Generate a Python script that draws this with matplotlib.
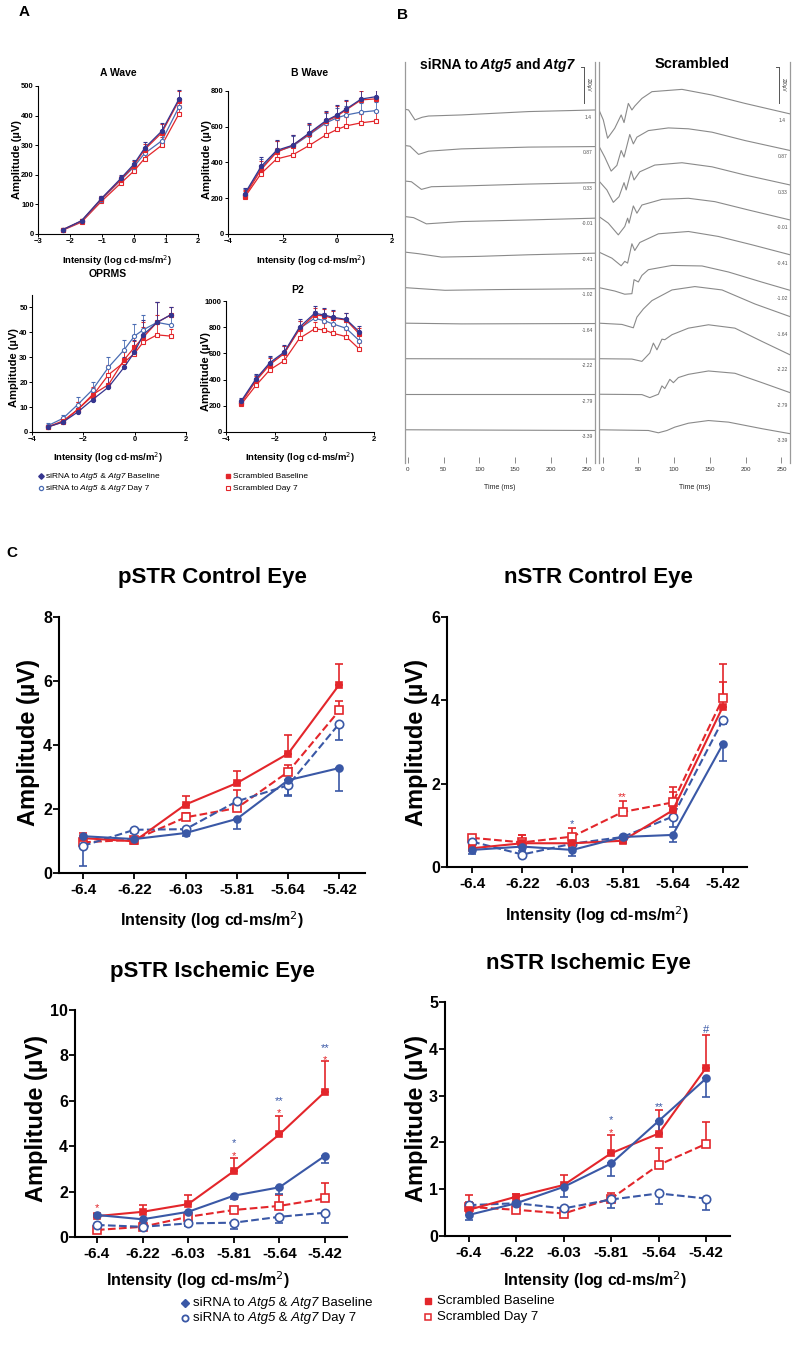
import numpy as np
import matplotlib
matplotlib.use("Agg")
import matplotlib.pyplot as plt

plt.rcParams['font.family'] = ['Liberation Sans', 'DejaVu Sans']

W, H = 800, 1349
NAVY = '#35358f'
BLUE_A = '#4a6cb3'
BLUE = '#3a58a6'
RED = '#e3262b'
GRAY = '#8a8a8a'

# ---------------- panel A : ERG intensity series ----------------
intensity = [-3.39, -2.79, -2.22, -1.64, -1.02, -0.41, -0.01, 0.33, 0.87, 1.4]

awave_si_bl = [15, 45, 120, 188, 235, 290, 348, 455]
awave_si_d7 = [14, 43, 116, 182, 226, 272, 315, 428]
awave_sc_bl = [15, 44, 118, 184, 230, 285, 342, 450]
awave_sc_d7 = [13, 40, 110, 172, 212, 255, 300, 405]
awave_err = [4, 6, 10, 12, 15, 20, 28, 32]

bwave_si_bl = [225, 378, 468, 496, 566, 635, 666, 700, 755, 768]
bwave_si_d7 = [218, 368, 462, 490, 556, 622, 650, 666, 682, 690]
bwave_sc_bl = [212, 360, 458, 495, 560, 630, 660, 695, 750, 756]
bwave_sc_d7 = [205, 338, 420, 442, 496, 555, 585, 605, 622, 632]
bwave_err = [35, 50, 60, 60, 55, 55, 55, 50, 50, 50]

oprms_si_bl = [2, 4, 8, 13, 18, 26, 32, 39, 44, 47]
oprms_si_d7 = [2.5, 5.5, 11, 17, 26, 33, 38.5, 41, 44, 43]
oprms_sc_bl = [2, 4.5, 9, 15, 19, 29, 34, 38, 44, 47]
oprms_sc_d7 = [2, 4, 9, 14.5, 23, 28, 31.5, 36, 39, 38.5]
oprms_err = [1, 1.5, 3, 3, 4, 4, 5, 6, 8, 3]

p2_si_bl = [235, 405, 530, 610, 800, 906, 893, 876, 860, 766]
p2_si_d7 = [225, 395, 520, 600, 790, 868, 850, 825, 792, 698]
p2_sc_bl = [220, 390, 515, 600, 785, 893, 886, 868, 855, 749]
p2_sc_d7 = [210, 355, 475, 545, 715, 787, 779, 754, 728, 634]
p2_err = [25, 40, 50, 55, 60, 55, 55, 55, 50, 45]

# ---------------- panel B : waveforms (time ms, amplitude uV) ----------------
trace_labels = ['1.4', '0.87', '0.33', '-0.01', '-0.41', '-1.02', '-1.64', '-2.22', '-2.79', '-3.39']

si_t = [[-4, 1, 10, 20, 29, 75, 169, 262],
        [-4, 3, 15, 29, 75, 169, 262],
        [-4, 5, 19, 33, 75, 169, 262],
        [-4, 8, 26, 75, 169, 262],
        [-4, 15, 47, 99, 169, 262],
        [-4, 52, 122, 262],
        [-4, 75, 262],
        [-4, 262],
        [-4, 262],
        [-4, 262]]
si_v = [[4, 0, -56, -41, -34, -28, -9, 0],
        [0, -4, -50, -32, -19, -9, -6],
        [0, -4, -47, -32, -28, -17, -9],
        [0, -6, -41, -28, -19, -9],
        [0, -9, -28, -24, -15, -6],
        [0, -15, -11, -6],
        [0, -4, -2],
        [0, -2],
        [0, 0],
        [0, -4]]

sc_t = [[-5, 1, 7, 17, 26, 30, 36, 41, 45, 55, 69, 111, 153, 199, 262],
        [-5, 3, 12, 20, 26, 30, 38, 43, 48, 64, 92, 120, 153, 199, 262],
        [-5, 6, 15, 23, 30, 33, 40, 44, 52, 73, 111, 153, 199, 262],
        [-5, 8, 22, 31, 35, 37, 43, 48, 55, 83, 120, 157, 204, 262],
        [-5, 13, 26, 31, 35, 41, 45, 52, 78, 120, 162, 209, 262],
        [-5, 17, 31, 41, 44, 50, 55, 64, 97, 139, 176, 222, 262],
        [-5, 27, 43, 48, 57, 69, 97, 129, 167, 213, 262],
        [-5, 41, 55, 66, 71, 76, 83, 87, 97, 120, 148, 185, 223, 262],
        [-5, 55, 66, 78, 83, 87, 94, 99, 106, 120, 148, 185, 223, 262],
        [-5, 64, 78, 90, 101, 120, 148, 176, 223, 262]]
sc_v = [[0, -56, -159, -103, -28, -71, 37, 0, 22, 65, 103, 116, 84, 37, -22],
        [-4, -65, -144, -112, -28, -65, 62, 9, 47, 84, 99, 94, 75, 28, -28],
        [0, -50, -120, -88, -9, -50, 56, 6, 52, 90, 103, 80, 34, -22],
        [0, -37, -103, -56, -9, -37, 60, 19, 65, 97, 103, 84, 37, -19],
        [0, -34, -77, -52, -62, 47, 9, 54, 103, 116, 88, 41, -15],
        [0, -19, -37, -34, 45, 32, 69, 101, 125, 122, 88, 32, -15],
        [0, -7, -26, 34, 80, 127, 187, 206, 187, 108, 37],
        [0, -2, -15, 32, 88, 50, 110, 107, 135, 172, 191, 172, 97, 22],
        [0, -2, -19, 0, 47, 32, 84, 65, 94, 112, 131, 118, 65, 9],
        [0, -4, -17, -4, 15, 37, 52, 43, 6, -22]]

# ---------------- panel C : STR amplitudes ----------------
stim = ['-6.4', '-6.22', '-6.03', '-5.81', '-5.64', '-5.42']

pc_si_bl = [1.15, 1.06, 1.25, 1.69, 2.90, 3.28]
pc_si_bl_err = [0.1, 0.1, 0.1, 0.3, 0.5, 0.73]
pc_si_d7 = [0.85, 1.35, 1.37, 2.24, 2.74, 4.67]
pc_si_d7_err = [0.62, 0.1, 0.1, 0.2, 0.3, 0.5]
pc_sc_bl = [1.09, 0.99, 2.14, 2.81, 3.73, 5.89]
pc_sc_bl_err = [0.15, 0.1, 0.26, 0.39, 0.57, 0.65]
pc_sc_d7 = [0.96, 1.04, 1.74, 2.03, 3.16, 5.08]
pc_sc_d7_err = [0.15, 0.1, 0.15, 0.55, 0.2, 0.3]

nc_si_bl = [0.41, 0.49, 0.41, 0.72, 0.77, 2.95]
nc_si_bl_err = [0.1, 0.1, 0.15, 0.15, 0.17, 0.4]
nc_si_d7 = [0.61, 0.30, 0.56, 0.72, 1.21, 3.53]
nc_si_d7_err = [0.1, 0.05, 0.1, 0.1, 0.25, 0.1]
nc_sc_bl = [0.45, 0.57, 0.57, 0.63, 1.36, 3.85]
nc_sc_bl_err = [0.1, 0.2, 0.1, 0.05, 0.45, 0.6]
nc_sc_d7 = [0.70, 0.59, 0.73, 1.32, 1.55, 4.05]
nc_sc_d7_err = [0.08, 0.18, 0.2, 0.27, 0.36, 0.82]

pi_si_bl = [0.97, 0.78, 1.11, 1.82, 2.19, 3.58]
pi_si_bl_err = [0.1, 0.1, 0.1, 0.15, 0.3, 0.32]
pi_si_d7 = [0.53, 0.45, 0.60, 0.63, 0.89, 1.07]
pi_si_d7_err = [0.1, 0.1, 0.1, 0.28, 0.29, 0.47]
pi_sc_bl = [0.92, 1.11, 1.45, 2.90, 4.52, 6.40]
pi_sc_bl_err = [0.1, 0.3, 0.4, 0.57, 0.81, 1.37]
pi_sc_d7 = [0.31, 0.45, 0.89, 1.19, 1.37, 1.70]
pi_sc_d7_err = [0.1, 0.1, 0.1, 0.1, 0.48, 0.67]

ni_si_bl = [0.45, 0.70, 1.05, 1.55, 2.46, 3.37]
ni_si_bl_err = [0.1, 0.05, 0.21, 0.27, 0.26, 0.39]
ni_si_d7 = [0.66, 0.70, 0.59, 0.78, 0.91, 0.80]
ni_si_d7_err = [0.1, 0.05, 0.05, 0.19, 0.22, 0.24]
ni_sc_bl = [0.56, 0.84, 1.09, 1.77, 2.19, 3.60]
ni_sc_bl_err = [0.31, 0.05, 0.21, 0.39, 0.5, 0.69]
ni_sc_d7 = [0.62, 0.56, 0.48, 0.80, 1.52, 1.97]
ni_sc_d7_err = [0.1, 0.05, 0.05, 0.12, 0.35, 0.47]

# significance marks: (index, value, text, colour)
nc_marks = [(2, 1.13, '*', BLUE), (3, 1.77, '**', RED)]
pi_marks = [(0, 1.45, '*', RED), (3, 4.3, '*', BLUE), (3, 3.72, '*', RED),
            (4, 6.15, '**', BLUE), (4, 5.6, '*', RED), (5, 8.5, '**', BLUE), (5, 7.95, '*', RED)]
ni_marks = [(3, 2.55, '*', BLUE), (3, 2.28, '*', RED), (4, 2.83, '**', BLUE), (5, 4.47, '#', BLUE)]

# ---------------------------------------------------------------
fig = plt.figure(figsize=(W / 100, H / 100), dpi=100)
ov = fig.add_axes([0, 0, 1, 1], zorder=10)
ov.set_xlim(0, W)
ov.set_ylim(H, 0)
ov.axis('off')


def px_axes(l, t, r, b):
    return fig.add_axes([l / W, 1 - b / H, (r - l) / W, (b - t) / H])


def rich(x, y, parts, size, weight='normal', center=False, va='center'):
    # chain text pieces so that italic gene names sit inside normal text
    first = ov.text(x, y, parts[0][0], fontsize=size, fontweight=weight,
                    fontstyle=parts[0][1], va=va, ha='left')
    arts = [first]
    for s, st in parts[1:]:
        arts.append(ov.annotate(s, xy=(1, 0), xycoords=arts[-1], va='bottom', ha='left',
                                fontsize=size, fontweight=weight, fontstyle=st))
    if center:
        r = fig.canvas.get_renderer()
        x0 = arts[0].get_window_extent(r).x0
        x1 = arts[-1].get_window_extent(r).x1
        first.set_x(x - (x1 - x0) / 2)
    return arts


# ---------------- panel A ----------------
A_STY = [dict(color=RED, marker='s', mfc='white'),
         dict(color=BLUE_A, marker='o', mfc='white'),
         dict(color=RED, marker='s', mfc=RED),
         dict(color=NAVY, marker='o', mfc=NAVY)]


def a_panel(rect, x, series, err, xlim, xticks, ylim, yticks):
    ax = px_axes(*rect)
    for vals, sty in zip(series, A_STY):
        ax.errorbar(x, vals, yerr=[np.zeros(len(vals)), err], color=sty['color'],
                    marker=sty['marker'], mfc=sty['mfc'], mec=sty['color'], ms=3,
                    mew=0.8, lw=0.9, elinewidth=0.6, capsize=1.3, capthick=0.6)
    ax.set_xlim(*xlim)
    ax.set_ylim(*ylim)
    ax.set_xticks(xticks)
    ax.set_yticks(yticks)
    ax.spines[['top', 'right']].set_visible(False)
    ax.spines[['left', 'bottom']].set_linewidth(0.8)
    ax.tick_params(length=2, width=0.7, labelsize=5.5, pad=1)
    for lab in ax.get_xticklabels() + ax.get_yticklabels():
        lab.set_fontweight('bold')
    return ax


a_panel((38, 86, 198, 234), intensity[2:],
        [awave_sc_d7, awave_si_d7, awave_sc_bl, awave_si_bl], awave_err,
        (-3, 2), [-3, -2, -1, 0, 1, 2], (0, 500), [0, 100, 200, 300, 400, 500])
a_panel((228, 91, 392, 234), intensity,
        [bwave_sc_d7, bwave_si_d7, bwave_sc_bl, bwave_si_bl], bwave_err,
        (-4, 2), [-4, -2, 0, 2], (0, 800), [0, 200, 400, 600, 800])
a_panel((32, 295, 186, 432), intensity,
        [oprms_sc_d7, oprms_si_d7, oprms_sc_bl, oprms_si_bl], oprms_err,
        (-4, 2), [-4, -2, 0, 2], (0, 55), [0, 10, 20, 30, 40, 50])
a_panel((226, 301, 374, 432), intensity,
        [p2_sc_d7, p2_si_d7, p2_sc_bl, p2_si_bl], p2_err,
        (-4, 2), [-4, -2, 0, 2], (0, 1000), [0, 200, 400, 600, 800, 1000])

for x, y, s in [(118, 73, 'A Wave'), (310, 73, 'B Wave'), (108, 274, 'OPRMS'), (298, 290, 'P2')]:
    ov.text(x, y, s, fontsize=7.5, fontweight='bold', ha='center', va='center')
for x, y in [(17, 160), (207, 160), (14, 368), (206, 372)]:
    ov.text(x, y, 'Amplitude (µV)', fontsize=8, fontweight='bold', rotation=90,
            ha='center', va='center')
for x, y in [(117, 261), (311, 261), (108, 458), (300, 458)]:
    ov.text(x, y, 'Intensity (log cd-ms/m$^2$)', fontsize=6.8, fontweight='bold',
            ha='center', va='center')

# panel A legend
ov.plot([41], [476], marker='D', ms=2.8, color=NAVY, ls='none')
ov.plot([41], [488], marker='o', ms=3, mfc='white', mec=BLUE_A, mew=0.9, ls='none')
ov.plot([228], [476], marker='s', ms=2.8, color=RED, ls='none')
ov.plot([228], [488], marker='s', ms=3, mfc='white', mec=RED, mew=0.8, ls='none')
rich(46, 476, [('siRNA to', 'normal'), (' Atg5', 'italic'), (' &', 'normal'),
               (' Atg7', 'italic'), (' Baseline', 'normal')], 6)
rich(46, 488, [('siRNA to', 'normal'), (' Atg5', 'italic'), (' &', 'normal'),
               (' Atg7', 'italic'), (' Day 7', 'normal')], 6)
rich(233, 476, [('Scrambled Baseline', 'normal')], 6)
rich(233, 488, [('Scrambled Day 7', 'normal')], 6)

# ---------------- panel B ----------------
STEP = 200
UV_PER_PX = 5.63
b_ylim = (-1987, 270)
for (l, r, xl, tt, vv, lab_t, lab_dy) in [(405, 595, (-4, 262), si_t, si_v, 252, -40),
                                         (599, 790, (-5, 262), sc_t, sc_v, 251, -62)]:
    ax = px_axes(l, 62, r, 463)
    for i, (t, v) in enumerate(zip(tt, vv)):
        ax.plot(t, np.array(v) - STEP * i, color=GRAY, lw=0.8)
        ax.text(lab_t, -STEP * i + lab_dy, trace_labels[i], fontsize=3.6, color='#555555',
                ha='center', va='center')
    # 200 uV scale bar
    ax.plot([246, 246], [40, 240], color='#555555', lw=0.7)
    ax.plot([242, 246], [240, 240], color='#555555', lw=0.7)
    ax.text(252.5, 140, '200µV', fontsize=3.4, rotation=-90, ha='center', va='center',
            color='#333333')
    ax.text(np.mean(xl), b_ylim[0] - 24 * UV_PER_PX, 'Time (ms)', fontsize=5,
            ha='center', va='center', color='#222222', clip_on=False)
    ax.set_xlim(*xl)
    ax.set_ylim(*b_ylim)
    ax.set_yticks([])
    ax.set_xticks([0, 50, 100, 150, 200, 250])
    ax.spines[['top', 'bottom']].set_visible(False)
    ax.spines[['left', 'right']].set_color('#9a9a9a')
    ax.spines[['left', 'right']].set_linewidth(0.9)
    ax.tick_params(axis='x', length=4, width=0.6, colors='#777777', labelsize=4.5,
                   labelcolor='#333333', pad=3, direction='in')

rich(497, 65, [('siRNA to', 'normal'), (' Atg5', 'italic'), (' and', 'normal'),
               (' Atg7', 'italic')], 10, weight='bold', center=True)
ov.text(692, 64, 'Scrambled', fontsize=10.5, fontweight='bold', ha='center', va='center')

# ---------------- panel C ----------------
C_STY = {'sc_d7': dict(color=RED, marker='s', mfc='white', ls='--', ms=6, up=True),
         'si_d7': dict(color=BLUE, marker='o', mfc='white', ls='--', ms=6, up=False),
         'sc_bl': dict(color=RED, marker='s', mfc=RED, ls='-', ms=5, up=True),
         'si_bl': dict(color=BLUE, marker='o', mfc=BLUE, ls='-', ms=5, up=False)}


def c_panel(rect, xlim, series, ylim, yticks, marks):
    ax = px_axes(*rect)
    x = np.arange(len(stim))
    for key, (vals, err) in series.items():
        s = C_STY[key]
        z = np.zeros(len(err))
        yerr = [z, err] if s['up'] else [err, z]
        ax.errorbar(x, vals, yerr=yerr, color=s['color'], ls=s['ls'], lw=1.5,
                    marker=s['marker'], ms=s['ms'], mfc=s['mfc'], mec=s['color'], mew=1.2,
                    elinewidth=1.2, capsize=3, capthick=1.2)
    for i, v, t, c in marks:
        ax.annotate(t, (i, v), xytext=(0, -4.8), textcoords='offset points', ha='center',
                    va='baseline', fontsize=8, color=c)
    ax.set_xlim(*xlim)
    ax.set_ylim(*ylim)
    ax.set_xticks(x, stim)
    ax.set_yticks(yticks)
    ax.spines[['top', 'right']].set_visible(False)
    ax.spines[['left', 'bottom']].set_linewidth(1.5)
    ax.tick_params(axis='x', length=4, width=1.3, labelsize=11, pad=3)
    ax.tick_params(axis='y', length=4, width=1.3, labelsize=11.5, pad=1)
    for lab in ax.get_xticklabels() + ax.get_yticklabels():
        lab.set_fontweight('bold')
    return ax


c_panel((59, 617, 365, 873), (-0.47, 5.5),
        {'sc_d7': (pc_sc_d7, pc_sc_d7_err), 'si_d7': (pc_si_d7, pc_si_d7_err),
         'sc_bl': (pc_sc_bl, pc_sc_bl_err), 'si_bl': (pc_si_bl, pc_si_bl_err)},
        (0, 8), [0, 2, 4, 6, 8], [])
c_panel((447, 617, 747, 867), (-0.5, 5.48),
        {'sc_d7': (nc_sc_d7, nc_sc_d7_err), 'si_d7': (nc_si_d7, nc_si_d7_err),
         'sc_bl': (nc_sc_bl, nc_sc_bl_err), 'si_bl': (nc_si_bl, nc_si_bl_err)},
        (0, 6), [0, 2, 4, 6], nc_marks)
c_panel((75, 1010, 347, 1237), (-0.48, 5.48),
        {'sc_d7': (pi_sc_d7, pi_sc_d7_err), 'si_d7': (pi_si_d7, pi_si_d7_err),
         'sc_bl': (pi_sc_bl, pi_sc_bl_err), 'si_bl': (pi_si_bl, pi_si_bl_err)},
        (0, 10), [0, 2, 4, 6, 8, 10], pi_marks)
c_panel((445, 1002, 730, 1236), (-0.5, 5.5),
        {'sc_d7': (ni_sc_d7, ni_sc_d7_err), 'si_d7': (ni_si_d7, ni_si_d7_err),
         'sc_bl': (ni_sc_bl, ni_sc_bl_err), 'si_bl': (ni_si_bl, ni_si_bl_err)},
        (0, 5), [0, 1, 2, 3, 4, 5], ni_marks)

for x, y, s in [(212, 578, 'pSTR Control Eye'), (598, 578, 'nSTR Control Eye'),
                (212, 972, 'pSTR Ischemic Eye'), (588, 963, 'nSTR Ischemic Eye')]:
    ov.text(x, y, s, fontsize=16, fontweight='bold', ha='center', va='center')
for x, y in [(29, 742), (417, 742), (37, 1118), (416, 1118)]:
    ov.text(x, y, 'Amplitude (µV)', fontsize=17, fontweight='bold', rotation=90,
            ha='center', va='center')
for x, y in [(212, 920), (597, 915), (198, 1280), (595, 1280)]:
    ov.text(x, y, 'Intensity (log cd-ms/m$^2$)', fontsize=11.5, fontweight='bold',
            ha='center', va='center')

# panel C legend
ov.plot([185], [1303], marker='D', ms=4, color=BLUE, ls='none')
ov.plot([185], [1318], marker='o', ms=4.5, mfc='white', mec=BLUE, mew=1.3, ls='none')
ov.plot([428], [1301], marker='s', ms=4, color=RED, ls='none')
ov.plot([428], [1317], marker='s', ms=4.5, mfc='white', mec=RED, mew=1.1, ls='none')
rich(193, 1303, [('siRNA to', 'normal'), (' Atg5', 'italic'), (' &', 'normal'),
                 (' Atg7', 'italic'), (' Baseline', 'normal')], 9.5)
rich(193, 1318, [('siRNA to', 'normal'), (' Atg5', 'italic'), (' &', 'normal'),
                 (' Atg7', 'italic'), (' Day 7', 'normal')], 9.5)
rich(437, 1301, [('Scrambled Baseline', 'normal')], 9.5)
rich(437, 1317, [('Scrambled Day 7', 'normal')], 9.5)

# panel letters
for x, y, s in [(24, 12, 'A'), (402, 15, 'B'), (12, 553, 'C')]:
    ov.text(x, y, s, fontsize=11, fontweight='bold', ha='center', va='center')

fig.savefig('out.png', dpi=100)
